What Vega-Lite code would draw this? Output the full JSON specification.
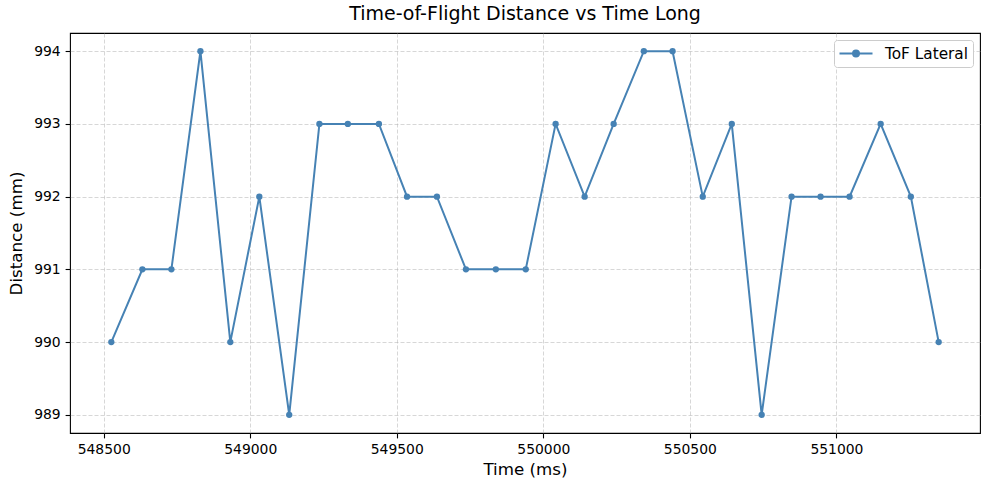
{
  "$schema": "https://vega.github.io/schema/vega-lite/v6.json",
  "autosize": "none",
  "width": 910,
  "height": 400,
  "padding": {"left": 70, "top": 33, "right": 9, "bottom": 57},
  "background": "white",
  "title": {"text": "Time-of-Flight Distance vs Time Long", "font": "DejaVu Sans", "fontSize": 19, "fontWeight": "normal", "color": "black", "offset": 9, "anchor": "middle"},
  "config": {
    "view": {"stroke": "black", "strokeWidth": 1.1},
    "font": "DejaVu Sans",
    "axis": {
      "labelFont": "DejaVu Sans", "labelFontSize": 13.9, "labelColor": "black",
      "titleFont": "DejaVu Sans", "titleFontSize": 16.7, "titleFontWeight": "normal", "titleColor": "black",
      "tickColor": "black", "tickSize": 4.9, "tickWidth": 1.1, "domain": false,
      "grid": true, "gridColor": "#b0b0b0", "gridOpacity": 0.5, "gridDash": [4, 2], "gridWidth": 1,
      "labelPadding": 4.9
    }
  },
  "data": {"values": [
    {"time": 548526, "distance": 990, "series": "ToF Lateral"},
    {"time": 548632, "distance": 991, "series": "ToF Lateral"},
    {"time": 548731, "distance": 991, "series": "ToF Lateral"},
    {"time": 548830, "distance": 994, "series": "ToF Lateral"},
    {"time": 548932, "distance": 990, "series": "ToF Lateral"},
    {"time": 549031, "distance": 992, "series": "ToF Lateral"},
    {"time": 549133, "distance": 989, "series": "ToF Lateral"},
    {"time": 549236, "distance": 993, "series": "ToF Lateral"},
    {"time": 549333, "distance": 993, "series": "ToF Lateral"},
    {"time": 549439, "distance": 993, "series": "ToF Lateral"},
    {"time": 549535, "distance": 992, "series": "ToF Lateral"},
    {"time": 549637, "distance": 992, "series": "ToF Lateral"},
    {"time": 549736, "distance": 991, "series": "ToF Lateral"},
    {"time": 549838, "distance": 991, "series": "ToF Lateral"},
    {"time": 549940, "distance": 991, "series": "ToF Lateral"},
    {"time": 550042, "distance": 993, "series": "ToF Lateral"},
    {"time": 550141, "distance": 992, "series": "ToF Lateral"},
    {"time": 550240, "distance": 993, "series": "ToF Lateral"},
    {"time": 550343, "distance": 994, "series": "ToF Lateral"},
    {"time": 550441, "distance": 994, "series": "ToF Lateral"},
    {"time": 550544, "distance": 992, "series": "ToF Lateral"},
    {"time": 550643, "distance": 993, "series": "ToF Lateral"},
    {"time": 550745, "distance": 989, "series": "ToF Lateral"},
    {"time": 550847, "distance": 992, "series": "ToF Lateral"},
    {"time": 550946, "distance": 992, "series": "ToF Lateral"},
    {"time": 551045, "distance": 992, "series": "ToF Lateral"},
    {"time": 551151, "distance": 993, "series": "ToF Lateral"},
    {"time": 551254, "distance": 992, "series": "ToF Lateral"},
    {"time": 551349, "distance": 990, "series": "ToF Lateral"}
  ]},
  "mark": {"type": "line", "strokeWidth": 2, "point": {"filled": true, "size": 40}},
  "encoding": {
    "x": {"field": "time", "type": "quantitative", "title": "Time (ms)",
      "scale": {"domain": [548385, 551490], "nice": false, "zero": false},
      "axis": {"values": [548500, 549000, 549500, 550000, 550500, 551000], "format": "d", "titlePadding": 5}},
    "y": {"field": "distance", "type": "quantitative", "title": "Distance (mm)",
      "scale": {"domain": [988.75, 994.25], "nice": false, "zero": false},
      "axis": {"values": [989, 990, 991, 992, 993, 994], "format": "d", "titlePadding": 8}},
    "color": {"field": "series", "type": "nominal",
      "scale": {"range": ["#4682b4"]},
      "legend": {"title": null, "orient": "top-right", "offset": 7,
        "fillColor": "white", "strokeColor": "#cccccc", "cornerRadius": 3, "padding": 5,
        "labelFont": "DejaVu Sans", "labelFontSize": 15.3, "labelColor": "black",
        "symbolType": "M-2.2,0L2.2,0M-0.4,0A0.4,0.4 0 1,0 0.4,0A0.4,0.4 0 1,0 -0.4,0Z",
        "symbolSize": 225, "symbolStrokeWidth": 2, "symbolFillColor": "#4682b4", "symbolStrokeColor": "#4682b4",
        "symbolOffset": 8.5, "labelOffset": 20.5}}
  }
}
